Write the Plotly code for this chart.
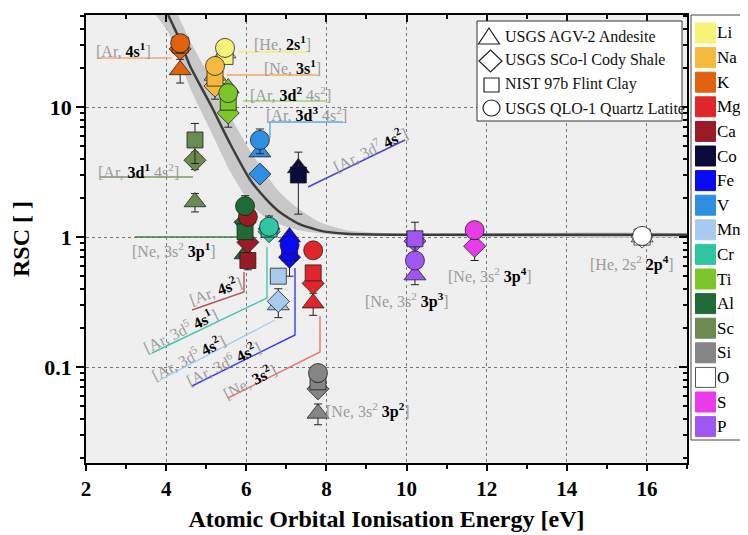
import plotly.graph_objects as go

# ---------------- data ----------------
elements = ['Li', 'Na', 'K', 'Mg', 'Ca', 'Co', 'Fe', 'V', 'Mn', 'Cr', 'Ti', 'Al', 'Sc', 'Si', 'O', 'S', 'P']
colors = ['#f7f27a', '#f5b93e', '#e0620c', '#e0262a', '#9a1b26', '#0b0b3b', '#0a0af0', '#2e8fe2',
          '#a8caec', '#2ec6a2', '#7cc52a', '#1f6a36', '#6b8a52', '#858585', '#ffffff', '#ea3aea', '#a056f2']
energy = [5.47, 5.22, 4.35, 7.67, 6.04, 7.30, 7.08, 6.34, 6.80, 6.57, 5.55, 5.97, 4.72, 7.79, 15.88, 11.70, 10.21]

agv2 = [26, 17.5, 19.3, 0.31, None, 3.4, 1.0, 4.5, 0.30, 1.25, 14.0, 0.74, 1.86, 0.044, 1.0, None, 0.51]
agv2_err = [None, None, 4.0, 0.06, None, None, None, None, None, 0.2, None, None, 0.3, 0.008, 0.08, None, 0.08]
sco1 = [None, 14.5, 28, 0.44, 0.91, None, 0.70, 3.05, 0.32, 1.1, 9.0, 1.3, 3.9, 0.068, 1.0, 0.85, 0.93]
sco1_err = [None, 3.0, None, None, None, None, 0.2, None, 0.08, None, 2.0, None, 0.6, None, None, 0.19, None]
nist97b = [24.5, 16.7, 30, 0.53, 0.66, 3.0, 0.76, None, 0.50, 1.15, 10.9, 1.1, 5.58, 0.077, 1.0, None, 0.97]
nist97b_err = [None, None, None, 0.05, 0.1, 1.5, None, None, None, None, None, None, 1.9, None, None, None, 0.33]
qlo1 = [28.5, 20.7, 31, 0.79, 1.43, None, 0.87, 5.58, None, 1.2, 12.8, 1.73, None, 0.09, 1.02, 1.13, 0.66]
qlo1_err = [3.5, None, 5.0, None, None, None, None, 1.2, None, None, None, 0.35, None, 0.013, None, 0.17, None]

curve_x = [4.05, 4.3, 4.6, 5.14, 5.6, 6.1, 6.5, 6.84, 7.3, 7.84, 8.5, 10.0, 17.0]
curve_y = [51, 35, 20.6, 10, 5.2, 2.75, 1.95, 1.55, 1.27, 1.12, 1.06, 1.04, 1.04]
band_hi_x = [4.25, 4.6, 5.14, 5.6, 6.1, 6.5, 6.84, 7.3, 7.84, 8.5, 9.3, 10.0, 17.0]
band_hi_y = [55, 32, 16, 8.5, 4.6, 3.0, 2.2, 1.65, 1.3, 1.13, 1.08, 1.06, 1.05]
band_lo_x = [3.72, 4.05, 4.3, 4.6, 5.14, 5.6, 6.1, 6.5, 6.84, 7.3, 7.84, 8.5, 10.0, 17.0]
band_lo_y = [52, 38, 25, 14, 6.3, 3.2, 1.8, 1.4, 1.25, 1.13, 1.07, 1.03, 1.02, 1.02]

materials = ['USGS AGV-2 Andesite', 'USGS SCo-l Cody Shale', 'NIST 97b Flint Clay', 'USGS QLO-1 Quartz Latite']

# ---------------- geometry (screen pixels; page body adds an 8px offset) ----------------
OFF = 8
W, H = 748 - OFF, 535 - OFF
L, R, T, B = 86, 687, 15, 463   # plot area in screen pixels
FONT = 'Liberation Serif'


def PX(x):
    return (x - L) / (R - L)


def PY(y):
    return (B - y) / (B - T)


fig = go.Figure()

# uncertainty band and trend line
fig.add_trace(go.Scatter(x=band_hi_x + band_lo_x[::-1], y=band_hi_y + band_lo_y[::-1],
                         mode='lines', fill='toself', fillcolor='#c8c8c8',
                         line=dict(width=0, shape='spline', smoothing=0.6),
                         hoverinfo='skip', showlegend=False))
fig.add_trace(go.Scatter(x=curve_x, y=curve_y, mode='lines',
                         line=dict(color='#3c3c3c', width=2.5, shape='spline', smoothing=0.6),
                         hoverinfo='skip', showlegend=False))

series = [(agv2, agv2_err, 'triangle-up', 19),
          (sco1, sco1_err, 'diamond', 17),
          (nist97b, nist97b_err, 'square', 16),
          (qlo1, qlo1_err, 'circle', 19)]
for name, (vals, errs, sym, size) in zip(materials, series):
    fig.add_trace(go.Scatter(
        x=energy, y=vals, mode='markers', name=name, text=elements,
        marker=dict(symbol=sym, size=size, color=colors,
                    line=dict(color='rgba(25,25,25,0.75)', width=1)),
        error_y=dict(type='data', array=errs, color='#222222', thickness=1, width=4, visible=True),
        showlegend=False))

# dummy trace to carry the mirrored (inside-tick) top/right axes
fig.add_trace(go.Scatter(x=[], y=[], xaxis='x2', yaxis='y2', showlegend=False, hoverinfo='skip'))

shapes = []
annotations = []


def bold(s):
    return "<span style='color:black'><b>" + s + "</b></span>"


labels = [
    ("[Ar, " + bold("4s<sup>1</sup>") + "]", 123, 50, 0, [(98, 58), (172, 58)], '#f3a878'),
    ("[He, " + bold("2s<sup>1</sup>") + "]", 282, 43, 0, [(238, 52), (310, 52)], '#f5ee70'),
    ("[Ne, " + bold("3s<sup>1</sup>") + "]", 292, 67, 0, [(227, 75), (317, 75)], '#f5a860'),
    ("[Ar, " + bold("3d<sup>2</sup>") + " 4s<sup>2</sup>]", 290, 94, 0, [(243, 101), (327, 101)], '#a2d46a'),
    ("[Ar, " + bold("3d<sup>3</sup>") + " 4s<sup>2</sup>]", 306, 114, 0, [(270, 138), (270, 122), (343, 122)], '#5aa8ea'),
    ("[Ar, " + bold("3d<sup>1</sup>") + " 4s<sup>2</sup>]", 138, 171, 0, [(100, 177), (193, 177)], '#7c9a62'),
    ("[Ar, 3d<sup>7</sup> " + bold("4s<sup>2</sup>") + "]", 370, 149, -26, [(308, 187), (405, 140)], '#4848c8'),
    ("[Ne, 3s<sup>2</sup> " + bold("3p<sup>1</sup>") + "]", 174, 250, 0, [(135, 237), (237, 237)], '#3f7a48'),
    ("[Ar, " + bold("4s<sup>2</sup>") + "]", 215, 290, -20, [(192, 310), (244, 292), (244, 272)], '#c0505a'),
    ("[Ar, 3d<sup>5</sup> " + bold("4s<sup>1</sup>") + "]", 180, 330, -26, [(152, 353), (267, 298), (267, 247)], '#40c8b0'),
    ("[Ar, 3d<sup>5</sup> " + bold("4s<sup>2</sup>") + "]", 188, 357, -27, [(160, 380), (275, 320)], '#a8ccee'),
    ("[Ar, 3d<sup>6</sup> " + bold("4s<sup>2</sup>") + "]", 223, 363, -26, [(192, 386), (295, 335), (295, 268)], '#3a3af2'),
    ("[Ne, " + bold("3s<sup>2</sup>") + "]", 249, 381, -27, [(228, 398), (320, 352), (320, 316)], '#f07272'),
    ("[Ne, 3s<sup>2</sup> " + bold("3p<sup>2</sup>") + "]", 368, 410, 0, None, None),
    ("[Ne, 3s<sup>2</sup> " + bold("3p<sup>3</sup>") + "]", 407, 300, 0, None, None),
    ("[Ne, 3s<sup>2</sup> " + bold("3p<sup>4</sup>") + "]", 490, 275, 0, None, None),
    ("[He, 2s<sup>2</sup> " + bold("2p<sup>4</sup>") + "]", 632, 263, 0, None, None),
]
for text, cx, cy, ang, pts, col in labels:
    annotations.append(dict(text=text, x=PX(cx), y=PY(cy), xref='paper', yref='paper',
                            xanchor='center', yanchor='middle', showarrow=False, textangle=ang,
                            font=dict(family=FONT, size=16, color='#9b9b9b')))
    if pts:
        path = 'M ' + ' L '.join(f'{PX(a):.5f},{PY(b):.5f}' for a, b in pts)
        shapes.append(dict(type='path', path=path, xref='paper', yref='paper',
                           line=dict(color=col, width=1.4)))

# inner legend (sample materials)
shapes.append(dict(type='rect', xref='paper', yref='paper', x0=PX(477), x1=PX(682), y0=PY(121), y1=PY(21),
                   fillcolor='white', line=dict(color='#333333', width=1)))
sym_line = dict(color='#222222', width=1.2)
shapes.append(dict(type='path', xref='paper', yref='paper', line=sym_line,
                   path=f'M {PX(478.5)},{PY(44)} L {PX(499.5)},{PY(44)} L {PX(489)},{PY(28)} Z'))
shapes.append(dict(type='path', xref='paper', yref='paper', line=sym_line,
                   path=f'M {PX(479)},{PY(61)} L {PX(490.5)},{PY(50)} L {PX(502)},{PY(61)} L {PX(490.5)},{PY(72)} Z'))
shapes.append(dict(type='rect', xref='paper', yref='paper', line=sym_line,
                   x0=PX(484), x1=PX(499), y0=PY(92), y1=PY(78)))
shapes.append(dict(type='circle', xref='paper', yref='paper', line=sym_line,
                   x0=PX(483), x1=PX(500), y0=PY(116), y1=PY(100)))
for i, name in enumerate(materials):
    annotations.append(dict(text=name, x=PX(503), y=PY(36 + i * 24.2), xref='paper', yref='paper',
                            xanchor='left', yanchor='middle', showarrow=False,
                            font=dict(family=FONT, size=16, color='#111111')))

# element colour key on the right
shapes.append(dict(type='rect', xref='paper', yref='paper', x0=PX(691), x1=PX(750), y0=PY(440), y1=PY(15),
                   fillcolor='white', line=dict(color='#444444', width=1)))
for i, (el, col) in enumerate(zip(elements, colors)):
    yc = 33 + i * 24.6
    shapes.append(dict(type='rect', xref='paper', yref='paper', x0=PX(695.5), x1=PX(715.5),
                       y0=PY(yc + 10), y1=PY(yc - 10), fillcolor=col,
                       line=dict(color='#555555' if el == 'O' else col, width=1)))
    annotations.append(dict(text=el, x=PX(716), y=PY(yc), xref='paper', yref='paper',
                            xanchor='left', yanchor='middle', showarrow=False, borderpad=0,
                            font=dict(family=FONT, size=17, color='black')))

ylog = [-1.738, 1.708]
minor_y = [v * 10 ** e for e in (-2, -1, 0, 1) for v in range(2, 10) if 0.017 < v * 10 ** e < 52]

axis_common = dict(showline=True, linecolor='black', linewidth=1.5, zeroline=False,
                   tickcolor='black', tickwidth=1.5, automargin=False)

fig.update_layout(
    width=W, height=H,
    margin=dict(l=L - OFF, r=W - (R - OFF), t=T - OFF, b=H - (B - OFF), pad=0, autoexpand=False),
    paper_bgcolor='white', plot_bgcolor='#efefef',
    showlegend=False,
    font=dict(family=FONT, color='black'),
    xaxis=dict(range=[2, 17], tick0=0, dtick=2, ticks='outside', ticklen=6,
               showgrid=True, gridcolor='#777777', griddash='dot', gridwidth=1,
               tickfont=dict(family=FONT, size=21, color='black', weight='bold'),
               minor=dict(dtick=1, tick0=0, ticks='outside', ticklen=4, tickcolor='black', showgrid=False),
               title=dict(text='Atomic Orbital Ionisation Energy [eV]',
                          font=dict(family=FONT, size=24, color='black', weight='bold'), standoff=10),
               **axis_common),
    yaxis=dict(type='log', range=ylog, tickvals=[0.1, 1, 10], ticktext=['0.1', '1', '10'],
               ticks='outside', ticklen=8,
               showgrid=True, gridcolor='#777777', griddash='dot', gridwidth=1,
               tickfont=dict(family=FONT, size=22, color='black', weight='bold'),
               minor=dict(tickmode='array', tickvals=minor_y, ticks='outside', ticklen=4,
                          tickcolor='black', showgrid=False),
               title=dict(text='RSC [ ]', font=dict(family=FONT, size=24, color='black', weight='bold'),
                          standoff=10),
               **axis_common),
    xaxis2=dict(overlaying='x', side='top', range=[2, 17], tick0=0, dtick=2, ticks='inside', ticklen=7,
                showticklabels=False, showgrid=False,
                minor=dict(dtick=1, tick0=0, ticks='inside', ticklen=4, tickcolor='black', showgrid=False),
                **axis_common),
    yaxis2=dict(overlaying='y', side='right', type='log', range=ylog, tickvals=[0.1, 1, 10],
                ticks='inside', ticklen=8, showticklabels=False, showgrid=False,
                minor=dict(tickmode='array', tickvals=minor_y, ticks='inside', ticklen=4,
                           tickcolor='black', showgrid=False),
                **axis_common),
    shapes=shapes,
    annotations=annotations,
)

fig.write_html('out.html')
